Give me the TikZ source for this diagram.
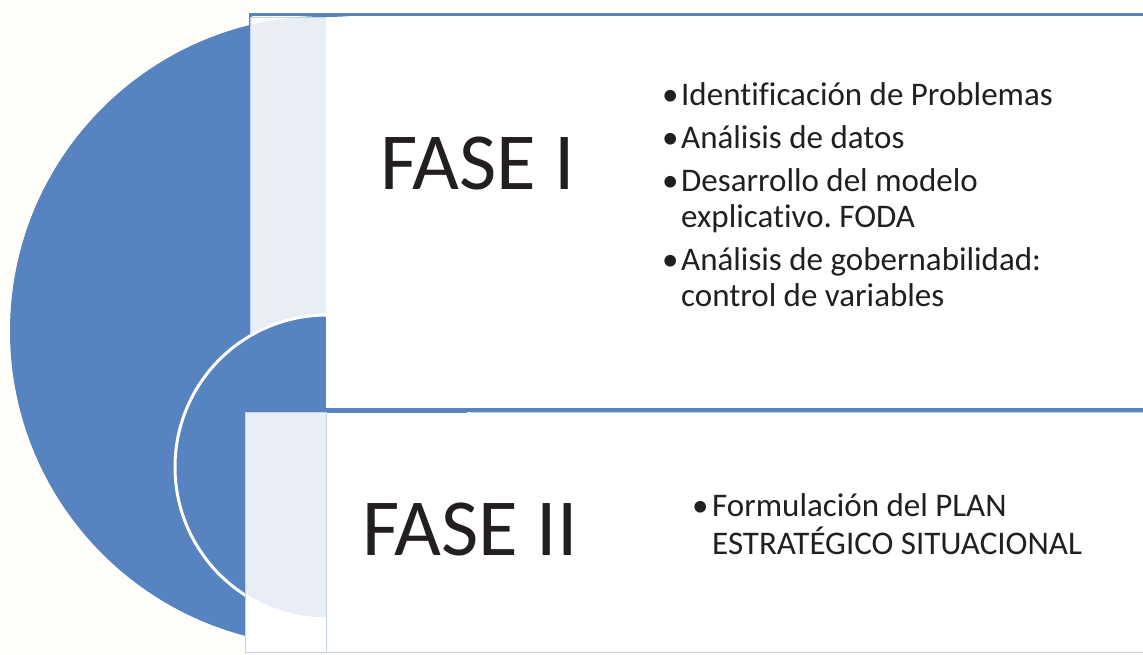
\documentclass[tikz,border=0pt]{standalone}
\usepackage{fontspec}
\setmainfont[Ligatures={NoCommon}]{Carlito}
\definecolor{faseblue}{RGB}{88,131,193}
\definecolor{edgeblue}{RGB}{196,211,234}
\definecolor{paper}{RGB}{255,254,250}
\definecolor{ink}{RGB}{35,31,32}
\frenchspacing

\tikzset{
  fasetitle/.style={font=\fontsize{81}{83}\selectfont, text=ink, anchor=base west, inner sep=0pt},
  faselist/.style={font=\fontsize{33}{36}\selectfont, text=ink, anchor=base west, inner sep=0pt},
  strip/.style={fill=white, fill opacity=0.87, draw=edgeblue, line width=0.8pt},
}
\newcommand{\bul}{\textbullet}

\begin{document}
\begin{tikzpicture}[x=1pt,y=-1pt]
\useasboundingbox (0,0) rectangle (1143,655);
\clip (0,0) rectangle (1143,655);
\def\bigcircle{(325,331) circle (315)}
\def\smallcircle{(327,467) circle (152)}

\fill[paper] (0,0) rectangle (1143,655);

% fase I, base
\draw[faseblue, fill=white, line width=3pt] (250,15) rectangle (1160,410);
\fill[faseblue] \bigcircle;
% fase II, base
\draw[edgeblue, fill=white, line width=1pt] (245,412) rectangle (1160,652);

\draw[strip] (250,17) rectangle (326,408);
\draw[white, fill=faseblue, line width=3pt] \smallcircle;
\draw[strip] (245,412) rectangle (326,652);

\fill[white] (326,17) rectangle (1160,408);
\fill[white] (326.5,413) rectangle (1160,651.5);
\draw[faseblue, line width=3.5pt] (326,410) -- (1160,410);

\node[fasetitle] (faseuno) at (380,190) {FASE I};
\node[fasetitle] (fasedos) at (362,555) {FASE II};

\node[faselist] (listauno) at (662,106) {%
  \begin{tabular}[t]{@{}p{19pt}@{}l@{}}
  \bul & Identificación de Problemas\\[7pt]
  \bul & Análisis de datos\\[7pt]
  \bul & Desarrollo del modelo\\
       & explicativo. FODA\\[7pt]
  \bul & Análisis de gobernabilidad:\\
       & control de variables
  \end{tabular}};
\node[faselist, font=\fontsize{33}{35}\selectfont] (listados) at (692,516) {%
  \begin{tabular}[t]{@{}p{20pt}@{}l@{}}
  \bul & Formulación del PLAN\\
       & ESTRATÉGICO SITUACIONAL
  \end{tabular}};
\end{tikzpicture}
\end{document}
